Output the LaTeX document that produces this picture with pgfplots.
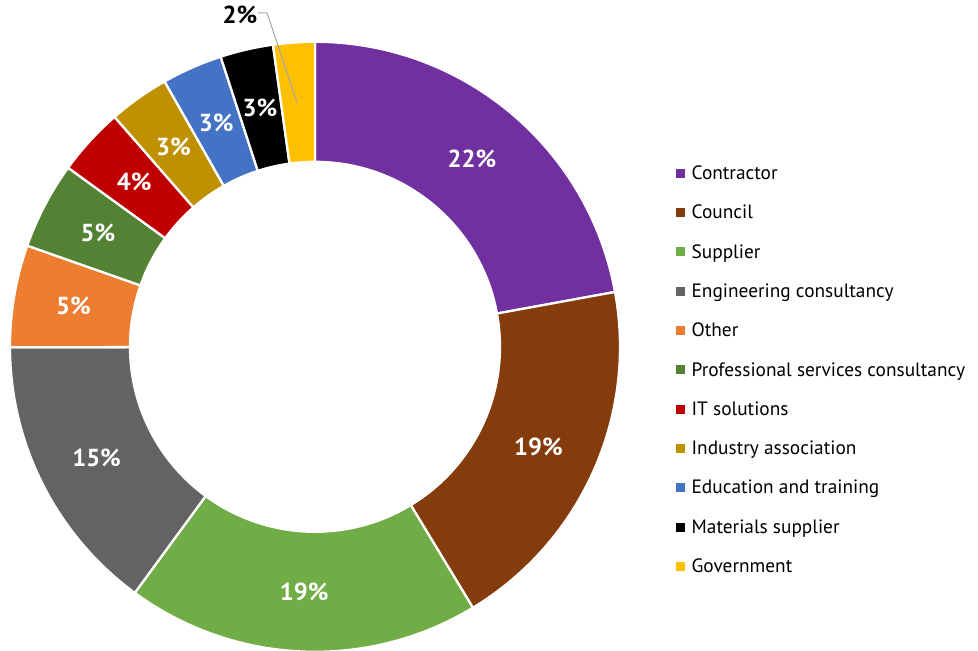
\documentclass[border=0pt]{standalone}
\usepackage{pgfplots}
\pgfplotsset{compat=1.18}
\usepackage{pgfplotstable}
\usepackage{fontspec}
\setmainfont{PT Sans}

\definecolor{c0}{HTML}{7030A0}
\definecolor{c1}{HTML}{843C0C}
\definecolor{c2}{HTML}{70AD47}
\definecolor{c3}{HTML}{636363}
\definecolor{c4}{HTML}{ED7D31}
\definecolor{c5}{HTML}{548235}
\definecolor{c6}{HTML}{C00000}
\definecolor{c7}{HTML}{BF9000}
\definecolor{c8}{HTML}{4472C4}
\definecolor{c9}{HTML}{000000}
\definecolor{c10}{HTML}{FFC000}

% share of respondents by organisation type
\pgfplotstableread[col sep=comma]{
name,share
Contractor,22.1
Council,19.2
Supplier,18.7
Engineering consultancy,14.9
Other,5.4
Professional services consultancy,4.6
IT solutions,3.6
Industry association,3.2
Education and training,3.2
Materials supplier,2.8
Government,2.2
}\shares

\pgfplotstablegetrowsof{\shares}
\pgfmathtruncatemacro{\lastrow}{\pgfplotsretval-1}
\def\total{0}
\pgfplotsforeachungrouped \i in {0,...,\lastrow}{%
  \pgfplotstablegetelem{\i}{share}\of\shares
  \pgfmathsetmacro{\total}{\total+\pgfplotsretval}}

\def\Ro{6.1}  % outer radius
\def\Ri{3.7}  % inner radius
\def\Rm{4.9}  % label radius

\begin{document}
\begin{tikzpicture}[trim axis left, trim axis right, font=\fontsize{11}{14}\selectfont]
\begin{axis}[
    hide axis,
    disabledatascaling,
    x=1cm, y=1cm,
    xmin=-6.3, xmax=13.26,
    ymin=-6.08, ymax=7.0,
    legend image code/.code={\fill[#1] (0cm,-0.09cm) rectangle (0.18cm,0.09cm);},
    legend style={draw=none, fill=none, at={(axis cs:7.10,-0.46)}, anchor=west,
        font=\fontsize{11}{14}\selectfont,
        nodes={inner sep=0pt, text height=0.35cm, text depth=0.1cm},
        row sep=0.336cm, column sep=0.14cm},
    legend cell align=left,
]
\def\cum{0}
\pgfplotsforeachungrouped \i in {0,...,\lastrow}{%
  \pgfplotstablegetelem{\i}{share}\of\shares
  \let\val\pgfplotsretval
  \pgfplotstablegetelem{\i}{name}\of\shares
  \let\nm\pgfplotsretval
  \pgfmathsetmacro{\angA}{90-360*(\cum/\total)}
  \pgfmathsetmacro{\angB}{90-360*((\cum+\val)/\total)}
  \pgfmathsetmacro{\angM}{(\angA+\angB)/2}
  \pgfmathsetmacro{\xA}{\Ro*cos(\angA)}
  \pgfmathsetmacro{\yA}{\Ro*sin(\angA)}
  \pgfmathsetmacro{\xB}{\Ri*cos(\angB)}
  \pgfmathsetmacro{\yB}{\Ri*sin(\angB)}
  \pgfmathsetmacro{\xM}{\Rm*cos(\angM)}
  \pgfmathsetmacro{\yM}{\Rm*sin(\angM)}
  \pgfmathtruncatemacro{\pct}{round(100*(\val/\total))}
  \edef\temp{\noexpand\fill[c\i, draw=white, line width=1.3pt]
    (axis cs:\xA,\yA)
    arc[start angle=\angA, end angle=\angB, radius=\Ro cm]
    -- (axis cs:\xB,\yB)
    arc[start angle=\angB, end angle=\angA, radius=\Ri cm] -- cycle;
    \noexpand\addlegendimage{fill=c\i, draw=none}
    \noexpand\addlegendentry{\nm}}
  \temp
  \ifnum\i<\lastrow
    \edef\temp{\noexpand\node[font=\noexpand\fontsize{14}{16}\noexpand\selectfont\noexpand\bfseries, text=white]
      at (axis cs:\xM,\yM) {\pct\noexpand\%};}
    \temp
  \fi
  \pgfmathsetmacro{\cum}{\cum+\val}
}
% outside label for the smallest slice
\draw[gray!70, line width=0.6pt] (axis cs:-1.14,6.68) -- (axis cs:-0.96,6.68) -- (axis cs:-0.36,4.88);
\node[font=\fontsize{14}{16}\selectfont\bfseries] at (axis cs:-1.5,6.64) {2\%};
\end{axis}
\end{tikzpicture}
\end{document}
